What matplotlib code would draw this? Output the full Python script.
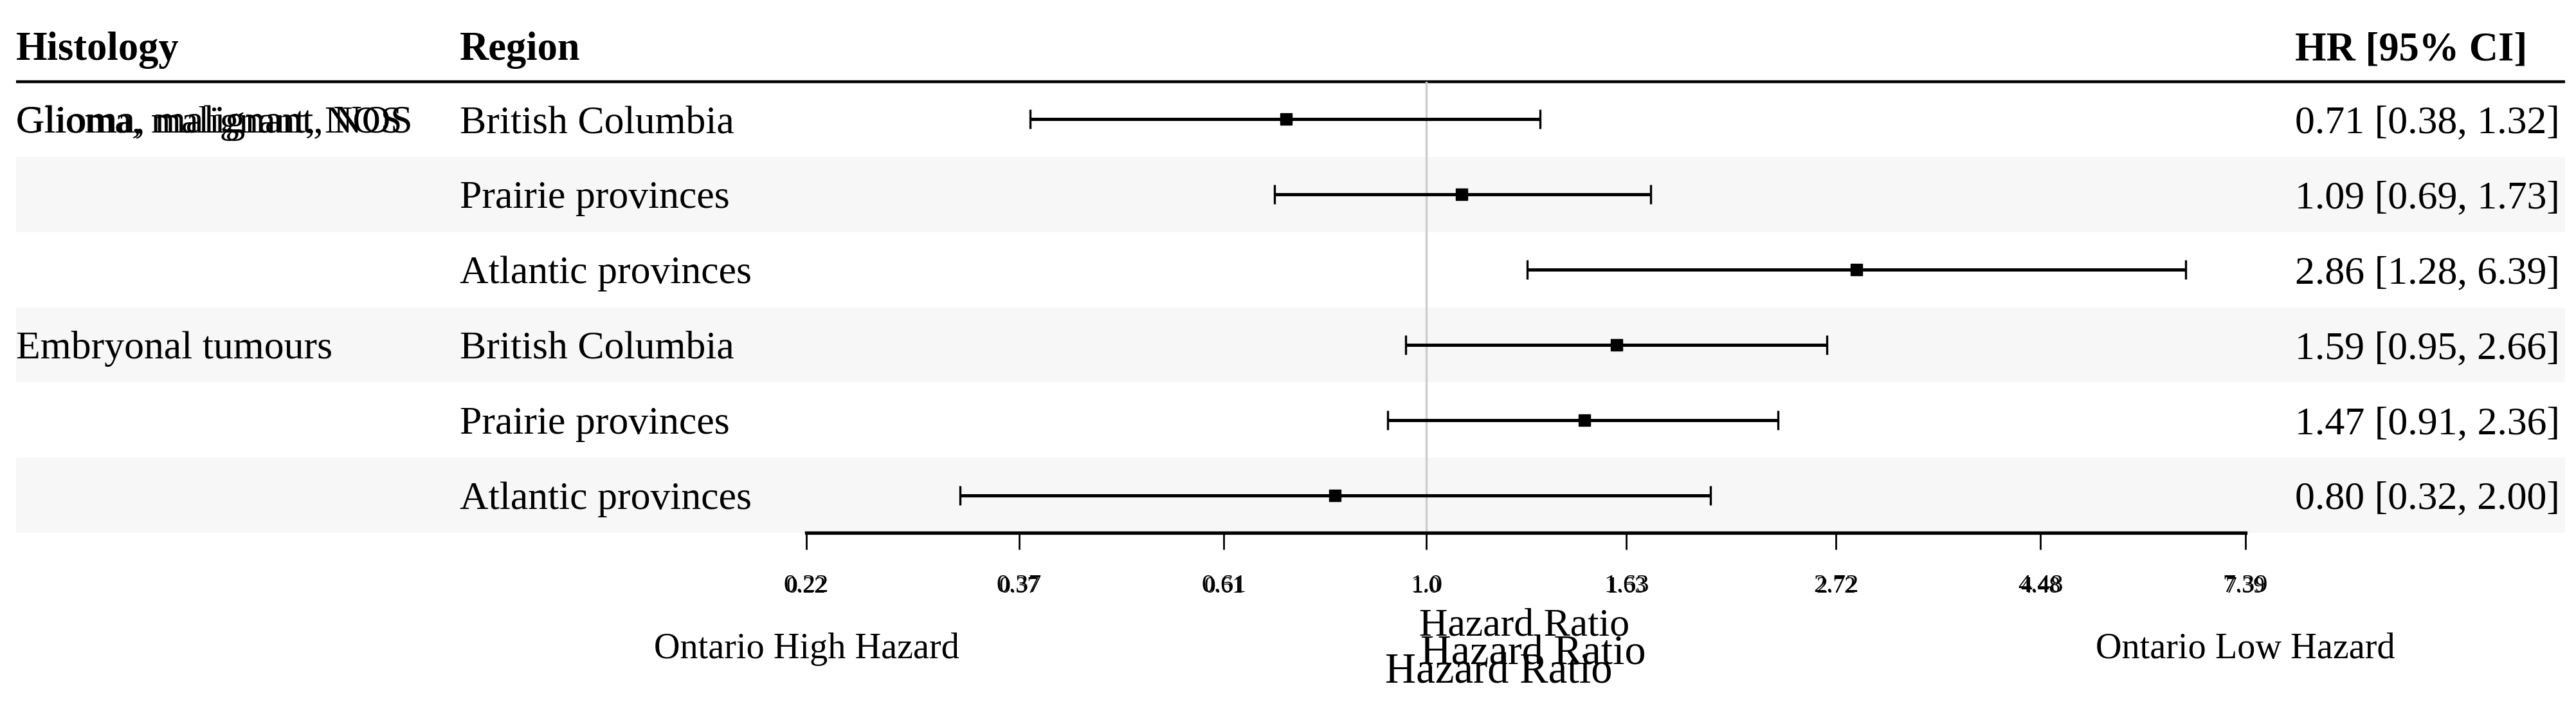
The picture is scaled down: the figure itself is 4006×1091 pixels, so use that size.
import numpy as np
import matplotlib
matplotlib.use("Agg")
import matplotlib.pyplot as plt
from matplotlib.ticker import NullLocator
from matplotlib.transforms import blended_transform_factory

# ---------------- data ----------------
HISTOLOGY = ["Glioma, malignant, NOS", "", "", "Embryonal tumours", "", ""]
REGION = ["British Columbia", "Prairie provinces", "Atlantic provinces",
          "British Columbia", "Prairie provinces", "Atlantic provinces"]
HR = [0.71, 1.09, 2.86, 1.59, 1.47, 0.80]
LOWER = [0.38, 0.69, 1.28, 0.95, 0.91, 0.32]
UPPER = [1.32, 1.73, 6.39, 2.66, 2.36, 2.00]
TICKS = [0.22, 0.37, 0.61, 1.0, 1.63, 2.72, 4.48, 7.39]
TICK_LABELS = ["0.22", "0.37", "0.61", "1.0", "1.63", "2.72", "4.48", "7.39"]
HEADERS = ["Histology", "Region", "HR [95% CI]"]
XLABEL = "Hazard Ratio"
LEFT_NOTE = "Ontario High Hazard"
RIGHT_NOTE = "Ontario Low Hazard"

plt.rcParams["font.family"] = ["Liberation Serif", "DejaVu Serif"]

W, H = 4006, 1091
fig = plt.figure(figsize=(W / 100, H / 100), dpi=100)

top_px, axis_px = 127, 828
row_px = (axis_px - top_px) / 6.0
n = len(HR)

def rows(px):
    return (px - top_px) / row_px

# table / background axes (x in pixels, y in rows)
ax_t = fig.add_axes([0, 1 - axis_px / H, 1, (axis_px - top_px) / H])
ax_t.set_xlim(0, W)
ax_t.set_ylim(n, 0)
ax_t.axis("off")

# forest axes
x0_px, x1_px = 1254, 3492
ax_f = fig.add_axes([x0_px / W, 1 - axis_px / H, (x1_px - x0_px) / W, (axis_px - top_px) / H])
ax_f.set_xscale("log")
ax_f.set_xlim(TICKS[0], TICKS[-1])
ax_f.set_ylim(n, 0)
ax_f.patch.set_alpha(0)
for s in ["top", "left", "right"]:
    ax_f.spines[s].set_visible(False)
ax_f.spines["bottom"].set_linewidth(3.8)
ax_f.set_xticks(TICKS)
ax_f.set_xticklabels(TICK_LABELS)
ax_f.xaxis.set_minor_locator(NullLocator())
ax_f.tick_params(axis="x", length=19, width=2.0, labelsize=29, pad=27)
ax_f.tick_params(axis="y", left=False, labelleft=False)

ypos = np.arange(n) + 0.5

# shading of alternate rows
shade = [i for i in range(n) if i % 2 == 1]
ax_t.barh(ypos[shade], 3989 - 25, left=25, height=1.0, color="#f7f7f7", zorder=0)

# header line
ax_t.plot([25, 3989], [0, 0], color="black", lw=3.2, clip_on=False, solid_capstyle="butt")

# reference line
ax_f.axvline(1.0, color="#cccccc", lw=2.4, zorder=1)

# CIs
hr = np.array(HR); lo = np.array(LOWER); hi = np.array(UPPER)
ax_f.errorbar(hr, ypos, xerr=[hr - lo, hi - hr], fmt="s", color="black",
              ms=12.5, elinewidth=3.6, capsize=10.5, capthick=2.4, zorder=3)

fs = 44.5
base_off = 21 / row_px
hy = rows(93)
ax_t.text(25, hy, HEADERS[0], fontsize=45, fontweight="bold", va="baseline", ha="left", clip_on=False)
ax_t.text(715, hy, HEADERS[1], fontsize=45, fontweight="bold", va="baseline", ha="left", clip_on=False)
ax_t.text(3569, hy, HEADERS[2], fontsize=45, fontweight="bold", va="baseline", ha="left", clip_on=False)

for i in range(n):
    yb = ypos[i] + base_off
    if HISTOLOGY[i]:
        ax_t.text(25, yb, HISTOLOGY[i], fontsize=fs, va="baseline", ha="left")
        if i == 0:
            ax_t.text(25, yb, HISTOLOGY[i], fontsize=fs * 0.97, va="baseline", ha="left")
    ax_t.text(715, yb, REGION[i], fontsize=fs, va="baseline", ha="left")
    ax_t.text(3569, yb, f"{HR[i]:.2f} [{LOWER[i]:.2f}, {UPPER[i]:.2f}]",
              fontsize=fs, va="baseline", ha="left")

# duplicated tick labels (overprinted in the reference)
bt = blended_transform_factory(ax_f.transData, ax_t.transData)
for t, lab in zip(TICKS, TICK_LABELS):
    ax_t.text(t, rows(921), lab, transform=bt, fontsize=25.5, ha="center", va="baseline", clip_on=False)

# x-axis titles (overprinted three times in the reference)
for xc, yb, f in [(2371, 987, 44.5), (2384, 1032, 47.5), (2331, 1062, 48.0)]:
    ax_t.text(xc, rows(yb), XLABEL, fontsize=f, ha="center", va="baseline", clip_on=False)

ax_t.text(TICKS[0], rows(1023), LEFT_NOTE, transform=bt, fontsize=40.5, ha="center", va="baseline", clip_on=False)
ax_t.text(TICKS[-1], rows(1023), RIGHT_NOTE, transform=bt, fontsize=40.5, ha="center", va="baseline", clip_on=False)

fig.savefig("out.png", dpi=100, facecolor="white")
